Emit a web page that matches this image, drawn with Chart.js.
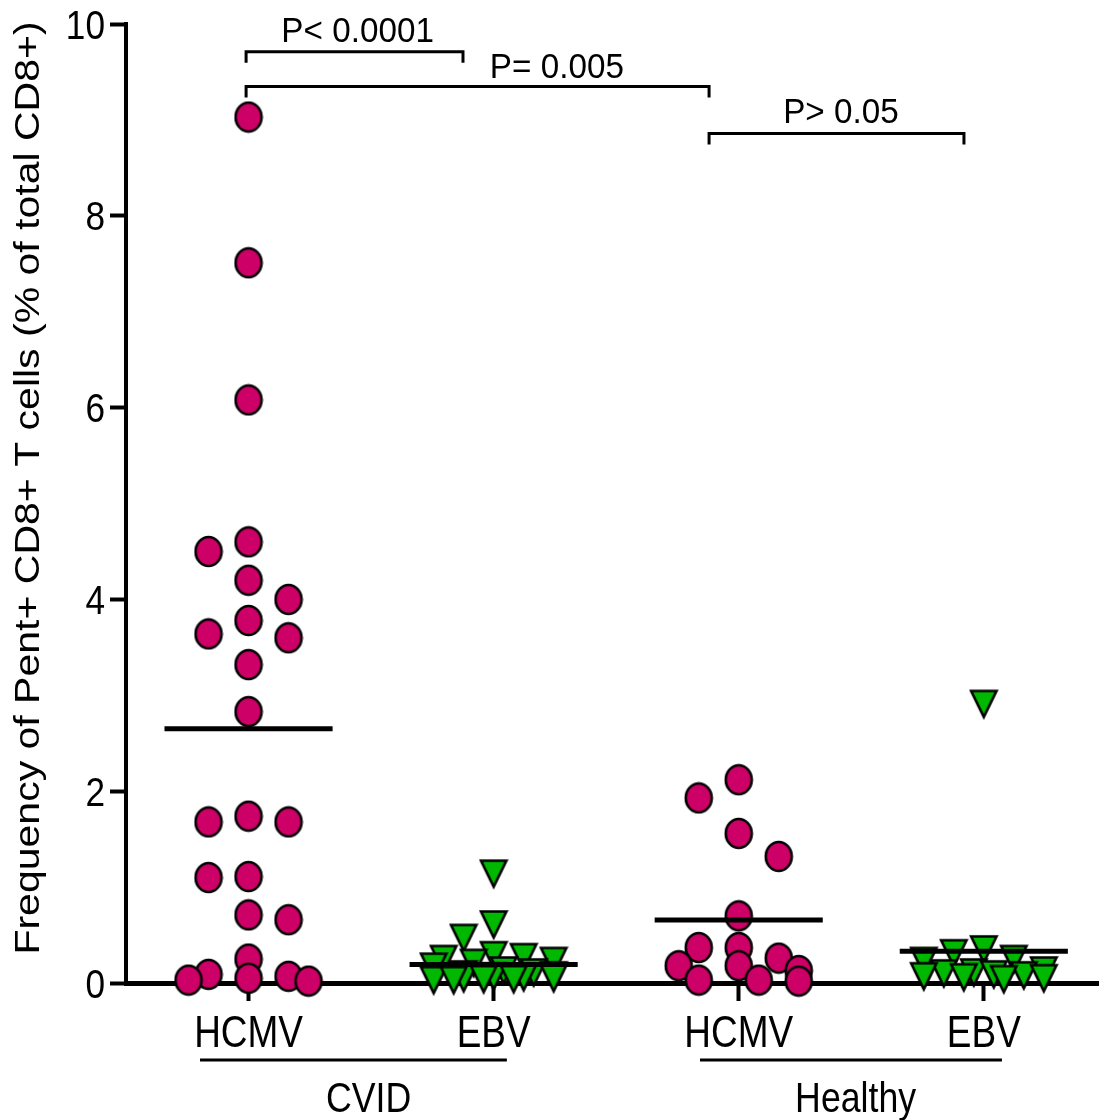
<!DOCTYPE html>
<html>
<head>
<meta charset="utf-8">
<title>Pent+ CD8+ T cells</title>
<script src="https://cdn.jsdelivr.net/npm/chart.js@4.4.1/dist/chart.umd.min.js"></script>
<style>
  html, body { margin: 0; padding: 0; background: #fff; }
  canvas { display: block; }
</style>
</head>
<body>
<canvas id="pentChart" width="1099" height="1120"></canvas>
<script>
// x positions 1..4
const groupLabels = ['HCMV', 'EBV', 'HCMV', 'EBV'];
const cohortLabels = ['CVID', 'Healthy'];
const yTicks = [0, 2, 4, 6, 8, 10];
const pLabels = ['P< 0.0001', 'P= 0.005', 'P> 0.05'];

// frequency of Pent+ CD8+ T cells, % of total CD8+, one value per donor
const cvidHcmv = [9.03, 7.51, 6.08, 4.60, 4.50, 4.20, 4.00, 3.78, 3.64, 3.60, 3.32, 2.83,
  1.74, 1.68, 1.68, 1.11, 1.10, 0.71, 0.66, 0.25, 0.09, 0.07, 0.05, 0.03, 0.02];
const cvidEbv = [1.13, 0.60, 0.46, 0.28, 0.26, 0.24, 0.22, 0.20, 0.16, 0.12, 0.10,
  0.08, 0.07, 0.06, 0.05, 0.05, 0.04, 0.04, 0.03, 0.03, 0.02, 0.02];
const healthyHcmv = [2.12, 1.93, 1.56, 1.32, 0.70, 0.37, 0.37, 0.26, 0.18, 0.18, 0.13,
  0.03, 0.02, 0.03];
const healthyEbv = [2.90, 0.34, 0.30, 0.24, 0.22, 0.12, 0.10, 0.09, 0.08, 0.07, 0.06,
  0.05, 0.04, 0.03];

const MAGENTA = '#cc0066';
const GREEN = '#00b800';

// spread points sideways so close values don't sit on top of each other,
// alternating the side that is tried first
function spread(values, center, o) {
  const placed = [];
  let side = -1;
  values.slice().sort((a, b) => b - a).forEach(v => {
    const cands = [0];
    for (let k = 1; k <= o.maxK; k++) cands.push(side * k, -side * k);
    let best = 0, bestCost = Infinity;
    for (const k of cands) {
      const x = center + k * o.step;
      let cost = 0;
      placed.forEach(p => {
        const d = Math.hypot((p.x - x) / o.dx, (p.y - v) / o.dy);
        if (d < 1) cost += 1 - d;
      });
      if (cost === 0) { best = k; break; }
      if (cost < bestCost) { bestCost = cost; best = k; }
    }
    if (best !== 0) side = -Math.sign(best);
    placed.push({ x: center + best * o.step, y: v });
  });
  return placed;
}

const dotSpread = { step: 0.0816, dx: 0.155, dy: 0.313, maxK: 3 };
const triSpread = { step: 0.0408, dx: 0.106, dy: 0.292, maxK: 6 };

function makeMarker(kind, fill) {
  const c = document.createElement('canvas');
  c.width = 30; c.height = 33;
  const g = c.getContext('2d');
  g.fillStyle = fill;
  g.strokeStyle = '#000';
  g.lineWidth = 2.6;
  g.beginPath();
  if (kind === 'circle') {
    g.ellipse(15, 16.5, 13, 14.5, 0, 0, Math.PI * 2);
  } else {
    g.moveTo(2.3, 2.5);
    g.lineTo(27.7, 2.5);
    g.lineTo(15, 28.5);
    g.closePath();
  }
  g.fill();
  g.stroke();
  return c;
}
const dotMarker = makeMarker('circle', MAGENTA);
const triMarker = makeMarker('triangle', GREEN);

const mean = arr => arr.reduce((s, v) => s + v, 0) / arr.length;

const series = [cvidHcmv, cvidEbv, healthyHcmv, healthyEbv];
const datasets = [];
series.forEach((vals, i) => {
  const isDot = i % 2 === 0;
  datasets.push({
    type: 'scatter',
    data: spread(vals, i + 1, isDot ? dotSpread : triSpread),
    pointStyle: isDot ? dotMarker : triMarker,
    pointRadius: 14,
    clip: false,
    order: 1
  });
});
series.forEach((vals, i) => {
  const m = mean(vals);
  datasets.push({
    type: 'line',
    data: [{ x: i + 1 - 0.343, y: m }, { x: i + 1 + 0.343, y: m }],
    borderColor: '#000',
    borderWidth: 5,
    borderCapStyle: 'butt',
    pointRadius: 0,
    clip: false,
    order: 0
  });
});

// significance brackets: x in group units, y in axis units
const brackets = [
  { from: 0.99, to: 1.875, y: 9.71, text: pLabels[0], tx: 1.445, ty: 9.81 },
  { from: 0.99, to: 2.879, y: 9.348, text: pLabels[1], tx: 2.258, ty: 9.442 },
  { from: 2.879, to: 3.919, y: 8.857, text: pLabels[2], tx: 3.417, ty: 8.972 }
];
// cohort underline spans and label centres
const cohorts = [
  { from: 0.802, to: 2.054, tx: 1.49 },
  { from: 2.842, to: 4.074, tx: 3.477 }
];

const FONT = '"Liberation Sans", Arial, sans-serif';
function drawText(ctx, text, x, y, size, sx, align) {
  ctx.save();
  ctx.translate(x, y);
  ctx.scale(sx, 1);
  ctx.font = size + 'px ' + FONT;
  ctx.textAlign = align || 'center';
  ctx.textBaseline = 'alphabetic';
  ctx.fillStyle = '#000';
  ctx.fillText(text, 0, 0);
  ctx.restore();
}

const figureText = {
  id: 'figureText',
  afterDraw(chart) {
    const ctx = chart.ctx;
    const xs = chart.scales.x, ys = chart.scales.y;

    // y tick labels
    ys.ticks.forEach(t => {
      drawText(ctx, String(t.value), 105, ys.getPixelForValue(t.value) + 14.5, 40, 0.88, 'right');
    });

    // group labels under each tick
    xs.ticks.forEach((t, i) => {
      drawText(ctx, groupLabels[i], xs.getPixelForValue(t.value), 1047, 44, 0.84);
    });

    // cohort underlines and names
    ctx.save();
    ctx.strokeStyle = '#000';
    ctx.lineWidth = 3;
    cohorts.forEach((c, i) => {
      ctx.beginPath();
      ctx.moveTo(xs.getPixelForValue(c.from), 1060);
      ctx.lineTo(xs.getPixelForValue(c.to), 1060);
      ctx.stroke();
      drawText(ctx, cohortLabels[i], xs.getPixelForValue(c.tx), 1112, 42, 0.85);
    });

    // brackets
    ctx.lineWidth = 3;
    ctx.lineJoin = 'miter';
    brackets.forEach(b => {
      const x1 = xs.getPixelForValue(b.from), x2 = xs.getPixelForValue(b.to);
      const y = ys.getPixelForValue(b.y);
      ctx.beginPath();
      ctx.moveTo(x1, y + 11);
      ctx.lineTo(x1, y);
      ctx.lineTo(x2, y);
      ctx.lineTo(x2, y + 11);
      ctx.stroke();
      drawText(ctx, b.text, xs.getPixelForValue(b.tx), ys.getPixelForValue(b.ty), 35, 0.95);
    });
    ctx.restore();

    // y axis title
    ctx.save();
    ctx.translate(39, 488);
    ctx.scale(0.85, 1);
    ctx.rotate(-Math.PI / 2);
    ctx.font = '41px ' + FONT;
    ctx.textAlign = 'center';
    ctx.textBaseline = 'alphabetic';
    ctx.fillStyle = '#000';
    ctx.fillText('Frequency of Pent+ CD8+ T cells (% of total CD8+)', 0, 0);
    ctx.restore();
  }
};

new Chart(document.getElementById('pentChart'), {
  data: { datasets: datasets },
  options: {
    responsive: false,
    animation: false,
    devicePixelRatio: 1,
    events: [],
    // no extra room for point overflow: the x axis runs to the right edge
    layout: { autoPadding: false, padding: { top: 24, right: 0, bottom: 0, left: 0 } },
    plugins: { legend: { display: false }, tooltip: { enabled: false } },
    scales: {
      x: {
        type: 'linear',
        min: 0.5,
        max: 4.47,
        afterBuildTicks: s => { s.ticks = groupLabels.map((_, i) => ({ value: i + 1 })); },
        afterFit: s => { s.height = 137; },
        ticks: { display: false },
        grid: { drawOnChartArea: false, color: '#000', tickColor: '#000', tickLength: 18, tickWidth: 4 },
        border: { color: '#000', width: 5 }
      },
      y: {
        type: 'linear',
        min: 0,
        max: 10,
        afterBuildTicks: s => { s.ticks = yTicks.map(v => ({ value: v })); },
        afterFit: s => { s.width = 126; },
        ticks: { display: false },
        grid: { drawOnChartArea: false, color: '#000', tickColor: '#000', tickLength: 16, tickWidth: 4 },
        border: { color: '#000', width: 4 }
      }
    }
  },
  plugins: [figureText]
});
</script>
</body>
</html>
